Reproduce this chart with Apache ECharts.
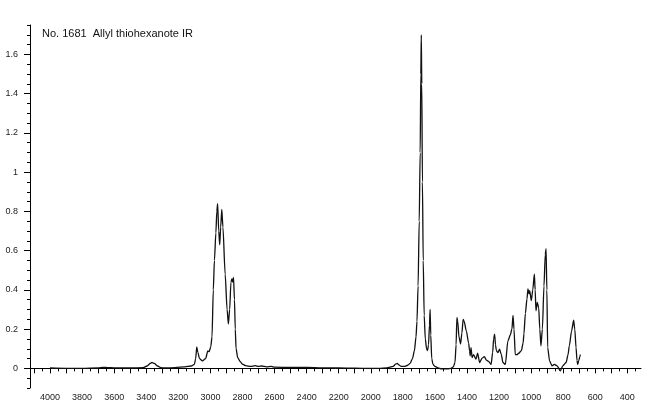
<!DOCTYPE html>
<html>
<head>
<meta charset="utf-8">
<script src="https://cdn.jsdelivr.net/npm/echarts@6/dist/echarts.min.js"></script>
<style>html,body{margin:0;padding:0;background:#fff}#c{width:650px;height:417px}</style>
</head>
<body>
<div id="c"></div>
<script>
const titleText = 'No. 1681  Allyl thiohexanote IR';
const wavenumbers = [4000,3900,3800,3700,3670,3640,3600,3500,3420,3395,3375,3365,3350,3330,3310,3280,3220,3160,3120,3100,3092,3085,3078,3068,3050,3030,3016,3008,2998,2990,2982,2975,2966,2960,2955,2948,2942,2936,2929,2922,2908,2896,2888,2880,2872,2866,2862,2856,2850,2845,2840,2830,2815,2800,2780,2750,2720,2700,2680,2650,2620,2600,2500,2400,2300,2200,2100,2000,1950,1900,1860,1845,1835,1825,1810,1790,1770,1755,1740,1728,1718,1712,1705,1698,1692,1688,1685,1682,1678,1673,1667,1660,1652,1646,1640,1634,1630,1626,1620,1612,1600,1580,1560,1540,1520,1500,1485,1475,1468,1463,1458,1450,1440,1432,1424,1418,1404,1390,1384,1380,1375,1368,1359,1344,1334,1321,1306,1292,1279,1265,1250,1240,1234,1228,1222,1217,1207,1197,1186,1176,1161,1145,1130,1120,1113,1107,1099,1088,1078,1061,1050,1045,1036,1026,1020,1013,1009,999,990,980,975,970,962,953,946,939,930,920,912,907,902,897,885,870,855,838,818,803,782,770,762,748,735,728,720,714,710,703,696,693];
const absorbance = [0.002,0.0,0.0,0.002,0.005,0.004,0.003,0.002,0.004,0.012,0.025,0.03,0.025,0.012,0.004,0.002,0.004,0.008,0.012,0.02,0.05,0.11,0.08,0.05,0.038,0.05,0.089,0.085,0.11,0.16,0.40,0.55,0.69,0.80,0.84,0.70,0.63,0.72,0.81,0.72,0.48,0.30,0.226,0.30,0.44,0.456,0.44,0.464,0.35,0.2,0.1,0.055,0.035,0.022,0.014,0.01,0.014,0.01,0.012,0.008,0.01,0.006,0.005,0.005,0.003,0.002,0.001,0.0,0.0,0.003,0.01,0.022,0.025,0.018,0.01,0.01,0.016,0.025,0.05,0.09,0.16,0.24,0.42,0.75,1.1,1.5,1.70,1.45,0.95,0.55,0.27,0.15,0.1,0.09,0.12,0.22,0.30,0.17,0.05,0.02,0.01,0.003,-0.002,-0.003,-0.002,0.0,0.008,0.03,0.12,0.26,0.24,0.16,0.124,0.18,0.25,0.24,0.19,0.13,0.09,0.064,0.106,0.055,0.07,0.047,0.078,0.03,0.052,0.06,0.042,0.035,0.02,0.08,0.15,0.175,0.12,0.09,0.08,0.098,0.07,0.03,0.02,0.14,0.17,0.2,0.27,0.2,0.07,0.07,0.077,0.09,0.13,0.176,0.28,0.354,0.405,0.38,0.396,0.345,0.40,0.48,0.4,0.294,0.336,0.31,0.2,0.115,0.2,0.42,0.58,0.61,0.4,0.106,0.038,0.013,0.02,0.013,-0.013,0.013,0.03,0.07,0.115,0.19,0.246,0.2,0.106,0.04,0.02,0.04,0.06,0.07];
const xTickLabels = [4000,3800,3600,3400,3200,3000,2800,2600,2400,2200,2000,1800,1600,1400,1200,1000,800,600,400];
const yTickLabels = [0,0.2,0.4,0.6,0.8,1,1.2,1.4,1.6];

const xMin = 315, xMax = 4125, yMin = -0.1, yMax = 1.75;
const xMajor = [], xMinor = [];
for (let v = 4100; v >= 350; v -= 50) { (v % 100 === 0 ? xMajor : xMinor).push(v); }

const data = wavenumbers.map((w, i) => [w, absorbance[i]]);
const font = 'Liberation Sans';
const chart = echarts.init(document.getElementById('c'));
chart.setOption({
  animation: false,
  backgroundColor: '#fff',
  title: {text: titleText, left: 42, top: 28, padding: 0,
    textStyle: {fontSize: 11, fontWeight: 'normal', color: '#111', fontFamily: font}},
  grid: {left: 30, right: 9, top: 25, bottom: 29, containLabel: false},
  xAxis: [
    {type: 'value', min: xMin, max: xMax, inverse: true, position: 'bottom',
      axisLine: {show: true, lineStyle: {color: '#000', width: 1}},
      axisTick: {show: true, customValues: xMinor, length: 3, lineStyle: {color: '#000'}},
      axisLabel: {show: false}, splitLine: {show: false}},
    {type: 'value', min: xMin, max: xMax, inverse: true, position: 'bottom', offset: 0,
      axisLine: {show: false},
      axisTick: {show: true, customValues: xMajor, length: 5, lineStyle: {color: '#000'}},
      axisLabel: {show: true, customValues: xTickLabels, fontSize: 9, color: '#222', margin: 5, fontFamily: font,
        formatter: v => String(Math.round(v))},
      splitLine: {show: false}}
  ],
  yAxis: [
    {type: 'value', min: yMin, max: yMax, interval: 0.05,
      axisLine: {show: true, lineStyle: {color: '#000', width: 1}},
      axisTick: {show: true, length: 3, lineStyle: {color: '#000'}},
      axisLabel: {show: false}, splitLine: {show: false}},
    {type: 'value', min: yMin, max: yMax, position: 'left', offset: 0,
      axisLine: {show: false},
      axisTick: {show: true, customValues: yTickLabels, length: 6, lineStyle: {color: '#000'}},
      axisLabel: {show: true, customValues: yTickLabels, fontSize: 9, color: '#222', margin: 12, fontFamily: font,
        formatter: v => String(Math.round(v * 10) / 10)},
      splitLine: {show: false}}
  ],
  series: [{
    type: 'line', xAxisIndex: 0, yAxisIndex: 0, data: data,
    showSymbol: false, smooth: 0.25, smoothMonotone: 'x',
    lineStyle: {color: '#111', width: 1.3}
  }]
});
</script>
</body>
</html>
